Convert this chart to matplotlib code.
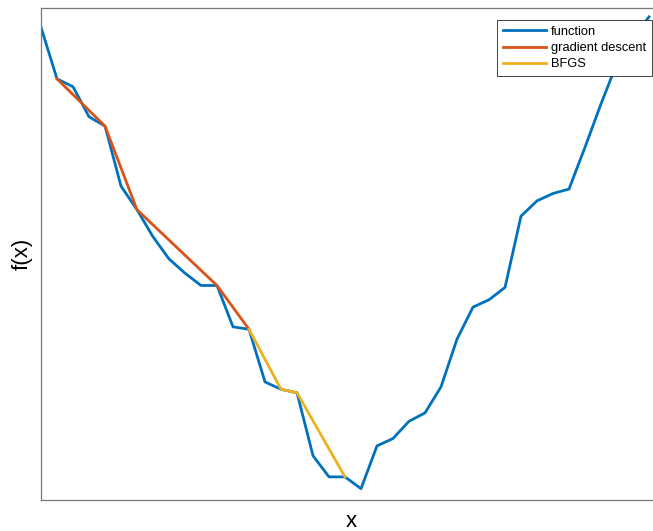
import numpy as np
import matplotlib.pyplot as plt

plt.rcParams['font.family'] = ['Liberation Sans', 'DejaVu Sans']

# Sampled objective and the iterates of the two optimisers
x = np.arange(39)
f = [9.61, 8.56, 8.40, 7.79, 7.60, 6.38, 5.90, 5.35, 4.90, 4.61,
     4.36, 4.36, 3.52, 3.47, 2.40, 2.25, 2.18, 0.90, 0.47, 0.47,
     0.23, 1.10, 1.25, 1.60, 1.77, 2.30, 3.27, 3.92, 4.07, 4.32,
     5.77, 6.08, 6.23, 6.32, 7.17, 8.05, 8.88, 9.39, 9.82]
gd_idx = [1, 4, 6, 11, 13]
bfgs_idx = [13, 15, 16, 19]

f = np.array(f)

fig = plt.figure(figsize=(6.53, 5.31), dpi=100)
ax = fig.add_axes([41 / 653, 31 / 531, 620 / 653, 492 / 531])

ax.plot(x, f, color='#0072BD', lw=2, label='function')
ax.plot(x[gd_idx], f[gd_idx], color='#D95319', lw=2, label='gradient descent')
ax.plot(x[bfgs_idx], f[bfgs_idx], color='#EDB120', lw=2, label='BFGS')

ax.set_xlim(0, 38.75)
ax.set_ylim(0, 10)
ax.set_xticks([])
ax.set_yticks([])
for s in ax.spines.values():
    s.set_color('#777777')
    s.set_linewidth(0.9)

ax.set_xlabel('x', fontsize=16, labelpad=8)
ax.set_ylabel('f(x)', fontsize=16, labelpad=6)

leg = ax.legend(loc='upper right', bbox_to_anchor=(652 / 653, 1 - 20 / 531),
                bbox_transform=fig.transFigure, borderaxespad=0,
                fancybox=False, fontsize=9.3, handlelength=3.3,
                handletextpad=0.4, labelspacing=0.33, borderpad=0.45,
                framealpha=1)
leg.get_frame().set_edgecolor('#262626')
leg.get_frame().set_linewidth(0.6)

fig.savefig('out.png', dpi=100)
